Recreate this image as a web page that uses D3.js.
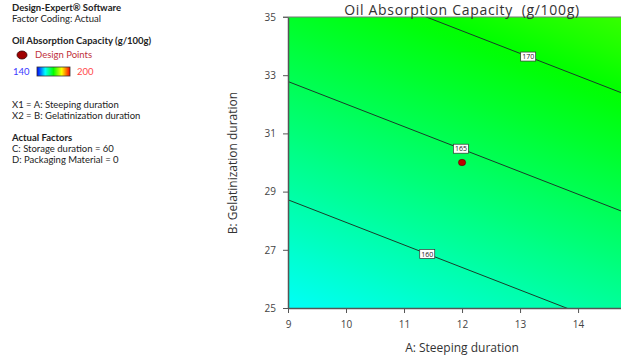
<!DOCTYPE html>
<html><head><meta charset="utf-8">
<script src="https://cdn.jsdelivr.net/npm/d3@7"></script>
<style>body{margin:0;background:#fff;}svg{display:block;font-family:"Open Sans","Noto Sans",sans-serif;}</style>
</head><body>
<svg id="c" width="621" height="360"></svg>
<script>
// ---- data ----
const xDomain = [9, 14.74];          // A: Steeping duration (plot cut at window edge)
const yDomain = [25, 35];            // B: Gelatinization duration
const xTicks = [9, 10, 11, 12, 13, 14];
const yTicks = [25, 27, 29, 31, 33, 35];
const contourLevels = [160, 165, 170];
const labelAt = [11.40, 11.98, 13.14]; // A position of each contour label
// fitted linear surface (estimated from the contour lines)
const coefIntercept = 116.1, coefA = 0.953, coefB = 1.23;
const designPoints = [{a: 12, b: 30}];
const colorDomain = [140, 155, 170, 185, 200];
const colorRange = ["#0000ff", "#00ffff", "#00ff00", "#ffff00", "#ff0000"];
const infoLines = [
  {t: "Design-Expert® Software", b: true, y: 11},
  {t: "Factor Coding: Actual", b: false, y: 22},
  {t: "Oil Absorption Capacity (g/100g)", b: true, y: 44},
  {t: "X1 = A: Steeping duration", b: false, y: 108},
  {t: "X2 = B: Gelatinization duration", b: false, y: 119},
  {t: "Actual Factors", b: true, y: 141},
  {t: "C: Storage duration = 60", b: false, y: 152},
  {t: "D: Packaging Material = 0", b: false, y: 163}
];

const f = (a, b) => coefIntercept + coefA * a + coefB * b;

const svg = d3.select("#c");
const L = 288, R = 621, T = 17, B = 308;
const x = d3.scaleLinear().domain(xDomain).range([L, R]);
const y = d3.scaleLinear().domain(yDomain).range([B, T]);
const color = d3.scaleLinear().domain(colorDomain).range(colorRange);

const defs = svg.append("defs");
defs.append("clipPath").attr("id", "clip").append("rect")
  .attr("x", L).attr("y", T).attr("width", R - L).attr("height", B - T);

// gradient along the direction of steepest ascent in pixel space
const gx = coefA / (x(1) - x(0)), gy = coefB / (y(1) - y(0));
const gl = Math.hypot(gx, gy), ux = gx / gl, uy = gy / gl;
const cx = (L + R) / 2, cy = (T + B) / 2, half = 400;
const p1 = [cx - ux * half, cy - uy * half], p2 = [cx + ux * half, cy + uy * half];
const v1 = f(x.invert(p1[0]), y.invert(p1[1])), v2 = f(x.invert(p2[0]), y.invert(p2[1]));
const grad = defs.append("linearGradient").attr("id", "surf").attr("gradientUnits", "userSpaceOnUse")
  .attr("x1", p1[0]).attr("y1", p1[1]).attr("x2", p2[0]).attr("y2", p2[1]);
d3.range(0, 1.0001, 0.02).forEach(t => {
  const v = Math.max(140, Math.min(200, v1 + (v2 - v1) * t));
  grad.append("stop").attr("offset", t).attr("stop-color", color(v));
});
svg.append("rect").attr("x", L).attr("y", T).attr("width", R - L).attr("height", B - T)
  .attr("fill", "url(#surf)");

// contour lines
const g = svg.append("g").attr("clip-path", "url(#clip)");
const line = d3.line().x(d => x(d[0])).y(d => y(d[1]));
contourLevels.forEach(lv => {
  const pts = [8, 16].map(a => [a, (lv - coefIntercept - coefA * a) / coefB]);
  g.append("path").attr("d", line(pts)).attr("fill", "none").attr("stroke", "#1a3a2a").attr("stroke-width", 1);
});
contourLevels.forEach((lv, i) => {
  const a = labelAt[i], b = (lv - coefIntercept - coefA * a) / coefB;
  const lg = svg.append("g").attr("transform", `translate(${x(a)},${y(b)})`);
  lg.append("rect").attr("x", -7.5).attr("y", -4.5).attr("width", 15).attr("height", 9)
    .attr("fill", "#fff").attr("stroke", "#333").attr("stroke-width", 0.7);
  lg.append("text").attr("text-anchor", "middle").attr("dy", 2.6).attr("font-size", 7)
    .attr("fill", "#222").text(lv);
});

// design points
svg.selectAll(".dp").data(designPoints).join("ellipse")
  .attr("cx", d => x(d.a)).attr("cy", d => y(d.b)).attr("rx", 3.6).attr("ry", 3.2)
  .attr("fill", "#c00000").attr("stroke", "#500").attr("stroke-width", 0.6);

// axes
const axCol = "#555";
const xa = svg.append("g").attr("transform", `translate(0,${B})`)
  .call(d3.axisBottom(x).tickValues(xTicks).tickSize(5).tickSizeOuter(0).tickFormat(d3.format("d")));
const ya = svg.append("g").attr("transform", `translate(${L},0)`)
  .call(d3.axisLeft(y).tickValues(yTicks).tickSize(5).tickSizeOuter(0).tickFormat(d3.format("d")));
[xa, ya].forEach(a => {
  a.select(".domain").attr("stroke", axCol).attr("stroke-width", 1.5);
  a.selectAll(".tick line").attr("stroke", axCol);
  a.selectAll(".tick text").attr("fill", "#444").attr("font-size", 10)
    .attr("font-family", '"Open Sans","Noto Sans",sans-serif');
});
xa.selectAll(".tick text").attr("dy", "1.2em");
ya.selectAll(".tick text").attr("dx", "-0.4em");
// top border
svg.append("line").attr("x1", L - 5).attr("x2", R).attr("y1", T).attr("y2", T)
  .attr("stroke", "#777").attr("stroke-width", 1.2);

// titles
svg.append("text").attr("x", 462).attr("y", 15).attr("text-anchor", "middle")
  .attr("font-size", 14).attr("letter-spacing", 0.7).attr("fill", "#333")
  .text("Oil Absorption Capacity\u00a0\u00a0(g/100g)");
svg.append("text").attr("x", 462).attr("y", 352).attr("text-anchor", "middle")
  .attr("font-size", 12).attr("fill", "#333").text("A: Steeping duration");
svg.append("text").attr("transform", "translate(237,163) rotate(-90)").attr("text-anchor", "middle")
  .attr("font-size", 12).attr("fill", "#333").text("B: Gelatinization duration");

// info panel
svg.selectAll(".info").data(infoLines).join("text")
  .attr("x", 12).attr("y", d => d.y).attr("font-size", 9.5).attr("font-family", "Lato, sans-serif")
  .attr("font-weight", d => d.b ? "bold" : "normal").attr("fill", "#222").text(d => d.t);

// legend
svg.append("ellipse").attr("cx", 22).attr("cy", 55).attr("rx", 5).attr("ry", 4)
  .attr("fill", "#a00000").attr("stroke", "#300").attr("stroke-width", 0.8);
svg.append("text").attr("x", 35).attr("y", 58).attr("font-size", 9.5).attr("font-family", "Lato, sans-serif")
  .attr("fill", "#c0303a").text("Design Points");
const lgGrad = defs.append("linearGradient").attr("id", "lg");
colorDomain.forEach((v, i) => lgGrad.append("stop").attr("offset", i / (colorDomain.length - 1)).attr("stop-color", color(v)));
svg.append("rect").attr("x", 37).attr("y", 67).attr("width", 33).attr("height", 9)
  .attr("fill", "url(#lg)").attr("stroke", "#333").attr("stroke-width", 0.8);
svg.append("text").attr("x", 13).attr("y", 75).attr("font-size", 9.5).attr("font-family", "Lato, sans-serif")
  .attr("fill", "#3a3aff").text(colorDomain[0]);
svg.append("text").attr("x", 77).attr("y", 75).attr("font-size", 9.5).attr("font-family", "Lato, sans-serif")
  .attr("fill", "#ff4a4a").text(colorDomain[colorDomain.length - 1]);
</script>
</body></html>
